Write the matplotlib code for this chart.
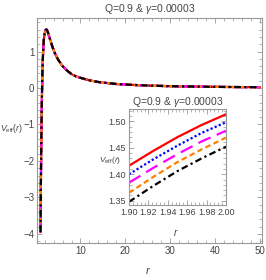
import matplotlib
matplotlib.use('Agg')
import matplotlib.pyplot as plt
from matplotlib.ticker import MultipleLocator

plt.rcParams['font.family'] = ['Liberation Sans Narrow', 'Liberation Sans', 'DejaVu Sans']
plt.rcParams['mathtext.fontset'] = 'custom'
plt.rcParams['mathtext.it'] = 'Liberation Sans:italic'
plt.rcParams['mathtext.rm'] = 'Liberation Sans'

# main panel: the five curves overlap at this scale
r_main = [1.085, 1.12, 1.18, 1.25, 1.32, 1.38, 1.44, 1.50, 1.6, 1.7, 1.8, 1.9, 2.0,
          2.2, 2.4, 2.6, 2.8, 3.0, 3.4, 3.8, 4.3, 5, 6, 7, 8, 9, 10, 12, 14, 16,
          18, 20, 23, 26, 30, 35, 40, 45, 50]
v_main = [-3.95, -3.35, -2.44, -1.57, -0.87, -0.38, 0.02, 0.36, 0.78, 1.08, 1.29, 1.41, 1.50,
          1.59, 1.61, 1.57, 1.50, 1.42, 1.26, 1.11, 0.95, 0.78, 0.60, 0.48, 0.38, 0.32, 0.28, 0.21,
          0.165, 0.135, 0.11, 0.095, 0.078, 0.064, 0.05, 0.04, 0.032, 0.026, 0.022]

# inset zoom, r in [1.90, 2.00]
r_zoom = [1.90, 1.925, 1.95, 1.975, 2.00]
v_red = [1.416, 1.444, 1.470, 1.493, 1.513]
v_blue = [1.400, 1.428, 1.454, 1.478, 1.498]
v_magenta = [1.384, 1.412, 1.438, 1.462, 1.482]
v_orange = [1.365, 1.395, 1.423, 1.447, 1.469]
v_black = [1.348, 1.378, 1.406, 1.430, 1.452]

styles = [
    dict(color='#ff0000', ls='-', lw=1.6),
    dict(color='#0000ff', ls=(0, (1, 1)), lw=1.6),
    dict(color='#ff00ff', ls=(0, (6, 3)), lw=1.6),
    dict(color='#ff8000', ls=(0, (2.5, 1.5)), lw=1.6),
    dict(color='#000000', ls=(0, (3, 1.5, 1, 1.5)), lw=1.6),
]
zoom_sets = [v_red, v_blue, v_magenta, v_orange, v_black]

title = r'Q=0.9 & $\gamma$=0.00003'
frame_col = '#999999'
text_col = '#444444'


def style_axes(ax, size):
    for s in ax.spines.values():
        s.set_color(frame_col)
        s.set_linewidth(0.8)
    ax.tick_params(which='both', direction='in', top=True, right=True,
                   colors=frame_col, labelcolor=text_col, labelsize=size, pad=2)
    ax.tick_params(which='major', length=3.5, width=0.6)
    ax.tick_params(which='minor', length=2, width=0.5)


fig = plt.figure(figsize=(2.66, 2.80), dpi=100)
ax = fig.add_axes([37 / 266, 1 - 243 / 280, 225 / 266, 225 / 280])
for st in styles:
    ax.plot(r_main, v_main, **st)
ax.set_xlim(0.3, 50.5)
ax.set_ylim(-4.25, 1.92)
ax.xaxis.set_major_locator(MultipleLocator(10))
ax.xaxis.set_minor_locator(MultipleLocator(2))
ax.yaxis.set_major_locator(MultipleLocator(1))
ax.yaxis.set_minor_locator(MultipleLocator(0.2))
ax.set_xticks([10, 20, 30, 40, 50])
ax.set_yticks([-4, -3, -2, -1, 0, 1])
ax.set_yticklabels(['\u22124', '\u22123', '\u22122', '\u22121', '0', '1'])
style_axes(ax, 7)
ax.set_title(title, fontsize=7.5, color=text_col, pad=4)
fig.text(148 / 266, 1 - 270 / 280, r'$r$', fontsize=8, color=text_col, ha='center', va='center')
fig.text(12 / 266, 1 - 129 / 280, r'$V_{\rm eff}(r)$', fontsize=6.3, color=text_col, ha='center', va='center')

ins = fig.add_axes([129 / 266, 1 - 205 / 280, 97 / 266, 96 / 280])
for st, v in zip(styles, zoom_sets):
    ins.plot(r_zoom, v, **st)
ins.set_xlim(1.9, 2.0)
ins.set_ylim(1.342, 1.523)
ins.set_xticks([1.90, 1.92, 1.94, 1.96, 1.98, 2.00])
ins.set_xticklabels(['1.90', '1.92', '1.94', '1.96', '1.98', '2.00'])
ins.xaxis.set_minor_locator(MultipleLocator(0.004))
ins.set_yticks([1.35, 1.40, 1.45, 1.50])
ins.set_yticklabels(['1.35', '1.40', '1.45', '1.50'])
ins.yaxis.set_minor_locator(MultipleLocator(0.01))
style_axes(ins, 6.5)
ins.set_title(title, fontsize=7.5, color=text_col, pad=3)
fig.text(176 / 266, 1 - 233 / 280, r'$r$', fontsize=7, color=text_col, ha='center', va='center')
fig.text(110 / 266, 1 - 160 / 280, r'$V_{\rm eff}(r)$', fontsize=6, color=text_col, ha='center', va='center')

fig.savefig('out.png', dpi=100)
